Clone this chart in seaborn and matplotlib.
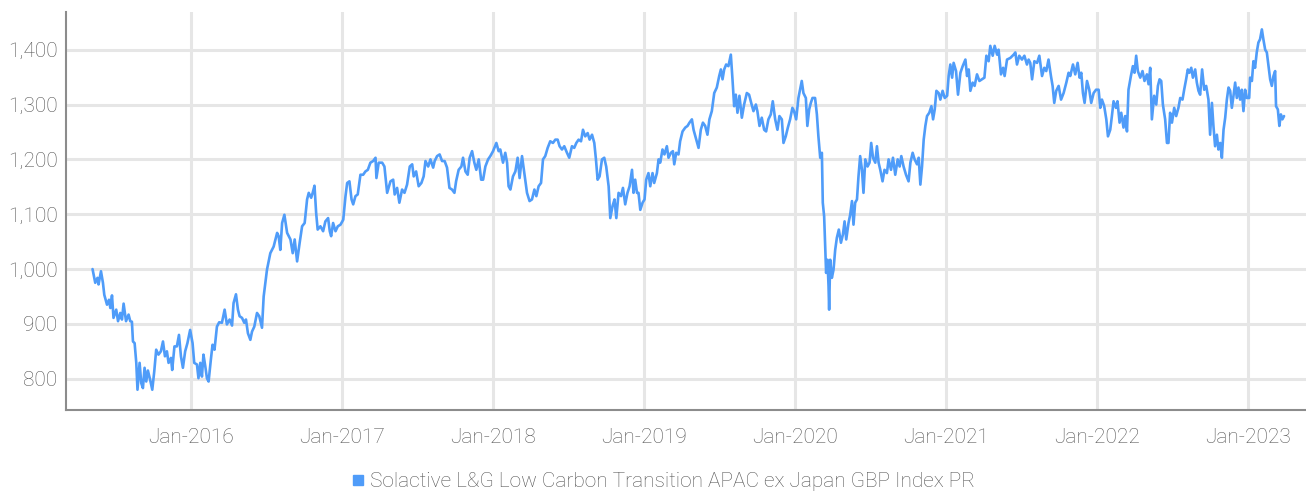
import matplotlib
matplotlib.use('Agg')
import matplotlib.pyplot as plt
import matplotlib.dates as mdates
from matplotlib.lines import Line2D
from matplotlib.ticker import FuncFormatter
import pandas as pd
import seaborn as sns

# Index level, dates given as decimal years
years = [
    2015.346, 2015.364, 2015.379, 2015.386, 2015.402, 2015.415, 2015.424, 2015.442, 2015.455, 2015.464,
    2015.475, 2015.485, 2015.503, 2015.515, 2015.530, 2015.541, 2015.552, 2015.568, 2015.585, 2015.596,
    2015.607, 2015.614, 2015.625, 2015.636, 2015.644, 2015.658, 2015.669, 2015.680, 2015.691, 2015.702,
    2015.713, 2015.728, 2015.742, 2015.755, 2015.768, 2015.783, 2015.799, 2015.813, 2015.826, 2015.839,
    2015.850, 2015.866, 2015.874, 2015.889, 2015.905, 2015.919, 2015.932, 2015.945, 2015.960, 2015.975,
    2015.993, 2016.009, 2016.020, 2016.038, 2016.048, 2016.060, 2016.071, 2016.081, 2016.093, 2016.104,
    2016.115, 2016.130, 2016.141, 2016.154, 2016.170, 2016.185, 2016.203, 2016.221, 2016.236, 2016.254,
    2016.270, 2016.280, 2016.296, 2016.309, 2016.320, 2016.336, 2016.351, 2016.362, 2016.375, 2016.391,
    2016.402, 2016.417, 2016.435, 2016.450, 2016.468, 2016.479, 2016.501, 2016.523, 2016.545, 2016.568,
    2016.578, 2016.589, 2016.601, 2016.616, 2016.634, 2016.656, 2016.671, 2016.684, 2016.700, 2016.717,
    2016.733, 2016.750, 2016.766, 2016.777, 2016.793, 2016.803, 2016.815, 2016.826, 2016.836, 2016.854,
    2016.872, 2016.887, 2016.905, 2016.916, 2016.925, 2016.938, 2016.954, 2016.969, 2016.987, 2017.005,
    2017.020, 2017.031, 2017.046, 2017.060, 2017.071, 2017.086, 2017.101, 2017.119, 2017.137, 2017.152,
    2017.168, 2017.185, 2017.203, 2017.219, 2017.225, 2017.240, 2017.263, 2017.278, 2017.296, 2017.318,
    2017.336, 2017.346, 2017.362, 2017.377, 2017.395, 2017.411, 2017.428, 2017.446, 2017.462, 2017.472,
    2017.488, 2017.505, 2017.523, 2017.538, 2017.550, 2017.568, 2017.583, 2017.601, 2017.611, 2017.627,
    2017.644, 2017.660, 2017.677, 2017.693, 2017.709, 2017.726, 2017.742, 2017.753, 2017.770, 2017.788,
    2017.799, 2017.815, 2017.830, 2017.843, 2017.859, 2017.874, 2017.887, 2017.903, 2017.919, 2017.932,
    2017.947, 2017.965, 2017.980, 2017.998, 2018.020, 2018.035, 2018.046, 2018.064, 2018.079, 2018.091,
    2018.101, 2018.113, 2018.130, 2018.146, 2018.161, 2018.174, 2018.190, 2018.205, 2018.223, 2018.240,
    2018.256, 2018.272, 2018.285, 2018.300, 2018.316, 2018.329, 2018.344, 2018.360, 2018.377, 2018.395,
    2018.411, 2018.426, 2018.439, 2018.455, 2018.470, 2018.488, 2018.503, 2018.521, 2018.536, 2018.550,
    2018.565, 2018.581, 2018.594, 2018.609, 2018.625, 2018.638, 2018.654, 2018.669, 2018.680, 2018.691,
    2018.704, 2018.720, 2018.735, 2018.748, 2018.764, 2018.775, 2018.790, 2018.803, 2018.815, 2018.830,
    2018.846, 2018.859, 2018.874, 2018.889, 2018.903, 2018.919, 2018.929, 2018.940, 2018.952, 2018.962,
    2018.974, 2018.989, 2019.002, 2019.013, 2019.028, 2019.040, 2019.055, 2019.066, 2019.084, 2019.095,
    2019.106, 2019.121, 2019.134, 2019.150, 2019.161, 2019.177, 2019.190, 2019.199, 2019.212, 2019.227,
    2019.238, 2019.254, 2019.272, 2019.287, 2019.300, 2019.316, 2019.327, 2019.342, 2019.360, 2019.375,
    2019.389, 2019.404, 2019.419, 2019.432, 2019.448, 2019.464, 2019.481, 2019.497, 2019.508, 2019.519,
    2019.530, 2019.543, 2019.558, 2019.574, 2019.585, 2019.596, 2019.607, 2019.618, 2019.631, 2019.647,
    2019.662, 2019.680, 2019.695, 2019.709, 2019.724, 2019.740, 2019.750, 2019.764, 2019.779, 2019.795,
    2019.808, 2019.823, 2019.839, 2019.852, 2019.868, 2019.883, 2019.896, 2019.912, 2019.923, 2019.938,
    2019.952, 2019.967, 2019.982, 2019.993, 2020.007, 2020.022, 2020.033, 2020.044, 2020.055, 2020.071,
    2020.081, 2020.093, 2020.104, 2020.115, 2020.132, 2020.144, 2020.154, 2020.166, 2020.177, 2020.183,
    2020.192, 2020.199, 2020.205, 2020.214, 2020.221, 2020.225, 2020.232, 2020.243, 2020.254, 2020.265,
    2020.276, 2020.289, 2020.303, 2020.316, 2020.327, 2020.338, 2020.353, 2020.364, 2020.376, 2020.386,
    2020.397, 2020.409, 2020.419, 2020.430, 2020.442, 2020.452, 2020.464, 2020.479, 2020.492, 2020.503,
    2020.515, 2020.530, 2020.541, 2020.552, 2020.563, 2020.578, 2020.591, 2020.607, 2020.618, 2020.634,
    2020.647, 2020.662, 2020.678, 2020.691, 2020.702, 2020.717, 2020.733, 2020.750, 2020.762, 2020.777,
    2020.790, 2020.806, 2020.817, 2020.828, 2020.839, 2020.850, 2020.861, 2020.872, 2020.887, 2020.901,
    2020.912, 2020.923, 2020.934, 2020.949, 2020.960, 2020.975, 2020.989, 2021.005, 2021.015, 2021.026,
    2021.038, 2021.048, 2021.064, 2021.077, 2021.093, 2021.108, 2021.126, 2021.137, 2021.148, 2021.159,
    2021.174, 2021.187, 2021.203, 2021.219, 2021.236, 2021.252, 2021.265, 2021.280, 2021.291, 2021.307,
    2021.320, 2021.336, 2021.346, 2021.362, 2021.376, 2021.386, 2021.402, 2021.424, 2021.446, 2021.457,
    2021.468, 2021.483, 2021.501, 2021.517, 2021.534, 2021.545, 2021.556, 2021.568, 2021.583, 2021.601,
    2021.616, 2021.634, 2021.649, 2021.662, 2021.677, 2021.693, 2021.704, 2021.715, 2021.728, 2021.744,
    2021.760, 2021.777, 2021.795, 2021.810, 2021.821, 2021.839, 2021.854, 2021.870, 2021.883, 2021.894,
    2021.905, 2021.916, 2021.932, 2021.947, 2021.960, 2021.976, 2021.992, 2022.009, 2022.020, 2022.031,
    2022.046, 2022.060, 2022.071, 2022.086, 2022.097, 2022.108, 2022.124, 2022.134, 2022.148, 2022.159,
    2022.174, 2022.185, 2022.197, 2022.207, 2022.223, 2022.236, 2022.247, 2022.258, 2022.269, 2022.285,
    2022.300, 2022.313, 2022.329, 2022.340, 2022.351, 2022.362, 2022.377, 2022.391, 2022.402, 2022.413,
    2022.424, 2022.435, 2022.450, 2022.462, 2022.472, 2022.483, 2022.495, 2022.510, 2022.523, 2022.538,
    2022.550, 2022.565, 2022.576, 2022.589, 2022.600, 2022.611, 2022.623, 2022.634, 2022.649, 2022.660,
    2022.671, 2022.682, 2022.695, 2022.709, 2022.722, 2022.737, 2022.748, 2022.760, 2022.770, 2022.781,
    2022.793, 2022.803, 2022.815, 2022.826, 2022.837, 2022.848, 2022.859, 2022.870, 2022.881, 2022.892,
    2022.903, 2022.914, 2022.925, 2022.936, 2022.947, 2022.958, 2022.969, 2022.980, 2022.992, 2023.007,
    2023.013, 2023.025, 2023.035, 2023.046, 2023.057, 2023.068, 2023.079, 2023.091, 2023.101, 2023.113,
    2023.124, 2023.135, 2023.146, 2023.157, 2023.168, 2023.179, 2023.185, 2023.197, 2023.207, 2023.217,
    2023.227, 2023.238,
]

values = [
    1000, 975, 984, 972, 996, 975, 953, 935, 944, 929,
    952, 911, 926, 905, 920, 908, 937, 905, 917, 905,
    904, 868, 865, 829, 780, 829, 792, 783, 820, 795,
    815, 798, 780, 813, 853, 844, 850, 868, 841, 850,
    829, 838, 816, 859, 859, 880, 841, 820, 850, 865,
    889, 865, 829, 826, 801, 829, 804, 844, 823, 801,
    795, 835, 862, 853, 895, 903, 902, 926, 899, 908,
    897, 938, 954, 926, 914, 911, 902, 908, 883, 871,
    886, 895, 920, 914, 893, 950, 999, 1029, 1041, 1066,
    1060, 1035, 1084, 1099, 1066, 1054, 1029, 1054, 1014, 1048,
    1078, 1084, 1127, 1139, 1130, 1139, 1152, 1102, 1072, 1078,
    1069, 1087, 1093, 1069, 1060, 1084, 1069, 1078, 1081, 1090,
    1133, 1157, 1160, 1127, 1118, 1133, 1136, 1172, 1172, 1178,
    1181, 1194, 1197, 1203, 1166, 1194, 1194, 1187, 1139, 1160,
    1163, 1136, 1148, 1121, 1145, 1139, 1154, 1187, 1191, 1169,
    1178, 1151, 1157, 1169, 1197, 1187, 1200, 1185, 1197, 1206,
    1209, 1197, 1197, 1185, 1148, 1145, 1139, 1160, 1181, 1187,
    1203, 1178, 1172, 1203, 1215, 1194, 1181, 1200, 1163, 1163,
    1187, 1200, 1206, 1215, 1230, 1215, 1218, 1194, 1212, 1194,
    1151, 1145, 1169, 1178, 1203, 1166, 1206, 1175, 1139, 1124,
    1127, 1145, 1133, 1151, 1157, 1200, 1206, 1221, 1233, 1230,
    1236, 1236, 1224, 1218, 1224, 1212, 1203, 1224, 1221, 1230,
    1236, 1233, 1254, 1242, 1248, 1236, 1245, 1230, 1200, 1163,
    1169, 1200, 1203, 1187, 1151, 1093, 1115, 1127, 1093, 1139,
    1133, 1148, 1118, 1139, 1151, 1181, 1139, 1163, 1139, 1139,
    1108, 1121, 1127, 1163, 1175, 1151, 1175, 1157, 1175, 1200,
    1194, 1218, 1209, 1224, 1203, 1212, 1215, 1191, 1212, 1209,
    1233, 1251, 1258, 1261, 1267, 1273, 1254, 1239, 1221, 1254,
    1267, 1261, 1245, 1273, 1288, 1321, 1331, 1352, 1364, 1346,
    1364, 1373, 1370, 1391, 1346, 1297, 1318, 1285, 1316, 1276,
    1300, 1321, 1318, 1303, 1288, 1300, 1288, 1261, 1276, 1254,
    1251, 1273, 1282, 1306, 1273, 1254, 1279, 1273, 1230, 1242,
    1258, 1273, 1294, 1288, 1273, 1312, 1327, 1343, 1321, 1312,
    1261, 1291, 1303, 1312, 1312, 1282, 1242, 1203, 1212, 1121,
    1096, 1041, 993, 1017, 969, 926, 1017, 984, 999, 1035,
    1057, 1072, 1048, 1063, 1087, 1054, 1084, 1099, 1124, 1081,
    1121, 1127, 1169, 1206, 1181, 1139, 1200, 1187, 1194, 1230,
    1203, 1194, 1224, 1194, 1181, 1160, 1181, 1175, 1200, 1181,
    1203, 1172, 1200, 1187, 1206, 1187, 1172, 1160, 1194, 1212,
    1200, 1191, 1203, 1154, 1187, 1236, 1261, 1279, 1285, 1297,
    1273, 1291, 1325, 1321, 1309, 1325, 1312, 1316, 1352, 1373,
    1349, 1376, 1361, 1318, 1358, 1370, 1382, 1352, 1364, 1325,
    1340, 1334, 1355, 1343, 1346, 1349, 1389, 1379, 1407, 1389,
    1407, 1391, 1400, 1355, 1367, 1352, 1382, 1385, 1391, 1395,
    1373, 1389, 1382, 1389, 1373, 1382, 1376, 1346, 1379, 1376,
    1389, 1352, 1367, 1361, 1382, 1352, 1334, 1303, 1325, 1334,
    1309, 1321, 1340, 1358, 1352, 1373, 1355, 1376, 1349, 1358,
    1321, 1303, 1343, 1327, 1303, 1321, 1327, 1327, 1294, 1309,
    1297, 1273, 1242, 1254, 1279, 1306, 1294, 1306, 1267, 1285,
    1258, 1279, 1251, 1327, 1352, 1370, 1358, 1389, 1361, 1349,
    1361, 1343, 1355, 1337, 1367, 1273, 1316, 1300, 1334, 1346,
    1343, 1300, 1273, 1230, 1230, 1285, 1267, 1294, 1279, 1294,
    1312, 1309, 1327, 1346, 1364, 1358, 1367, 1349, 1364, 1340,
    1325, 1318, 1364, 1327, 1334, 1309, 1245, 1303, 1261, 1224,
    1245, 1218, 1230, 1203, 1254, 1276, 1309, 1331, 1325, 1294,
    1316, 1340, 1312, 1331, 1309, 1327, 1288, 1327, 1312, 1312,
    1349, 1343, 1379, 1367, 1395, 1413, 1419, 1437, 1419, 1400,
    1395, 1370, 1346, 1334, 1352, 1361, 1297, 1291, 1261, 1282,
    1273, 1279,
]

series_name = 'Solactive L&G Low Carbon Transition APAC ex Japan GBP Index PR'
tick_years = [2016, 2017, 2018, 2019, 2020, 2021, 2022, 2023]
y_ticks = [800, 900, 1000, 1100, 1200, 1300, 1400]


def to_date(y):
    start = pd.Timestamp(year=int(y), month=1, day=1)
    end = pd.Timestamp(year=int(y) + 1, month=1, day=1)
    return start + (end - start) * (y - int(y))


df = pd.DataFrame({'date': [to_date(y) for y in years], 'value': values})

sns.set_style('white')
plt.rcParams['font.family'] = ['Roboto', 'DejaVu Sans']

line_color = '#4f9cf9'
text_color = '#555555'

fig = plt.figure(figsize=(13.06, 4.94), dpi=100)
ax = fig.add_axes([0.0505, 0.170, 0.9495, 0.806])

sns.lineplot(data=df, x='date', y='value', ax=ax, color=line_color, linewidth=1.9)

ax.set_xlim(pd.Timestamp('2015-03-04'), pd.Timestamp('2023-05-21'))
ax.set_ylim(743, 1469)
ax.set_xticks([pd.Timestamp(year=y, month=1, day=1) for y in tick_years])
ax.xaxis.set_major_formatter(mdates.DateFormatter('%b-%Y'))
ax.set_yticks(y_ticks)
ax.yaxis.set_major_formatter(FuncFormatter(lambda v, p: f'{int(v):,}'))

ax.grid(True, color='#e6e6e6', linewidth=2.2)
ax.set_axisbelow(True)
for side in ['top', 'right']:
    ax.spines[side].set_visible(False)
for side in ['left', 'bottom']:
    ax.spines[side].set_color('#8c8c8c')
    ax.spines[side].set_linewidth(1.5)

ax.tick_params(axis='both', length=0, labelsize=15, labelcolor=text_color)
ax.tick_params(axis='x', pad=13)
ax.tick_params(axis='y', pad=6)
for lab in ax.get_xticklabels() + ax.get_yticklabels():
    lab.set_fontweight('light')
ax.set_xlabel('')
ax.set_ylabel('')

handle = Line2D([], [], linestyle='none', marker='s', markersize=7.5,
                color=line_color)
leg = fig.legend([handle], [series_name], loc='center', bbox_to_anchor=(0.508, 0.025),
                 frameon=False, fontsize=15, handlelength=0.6, handletextpad=0.3,
                 borderpad=0)
for t in leg.get_texts():
    t.set_color(text_color)
    t.set_fontweight('light')

fig.savefig('out.png', dpi=100)
